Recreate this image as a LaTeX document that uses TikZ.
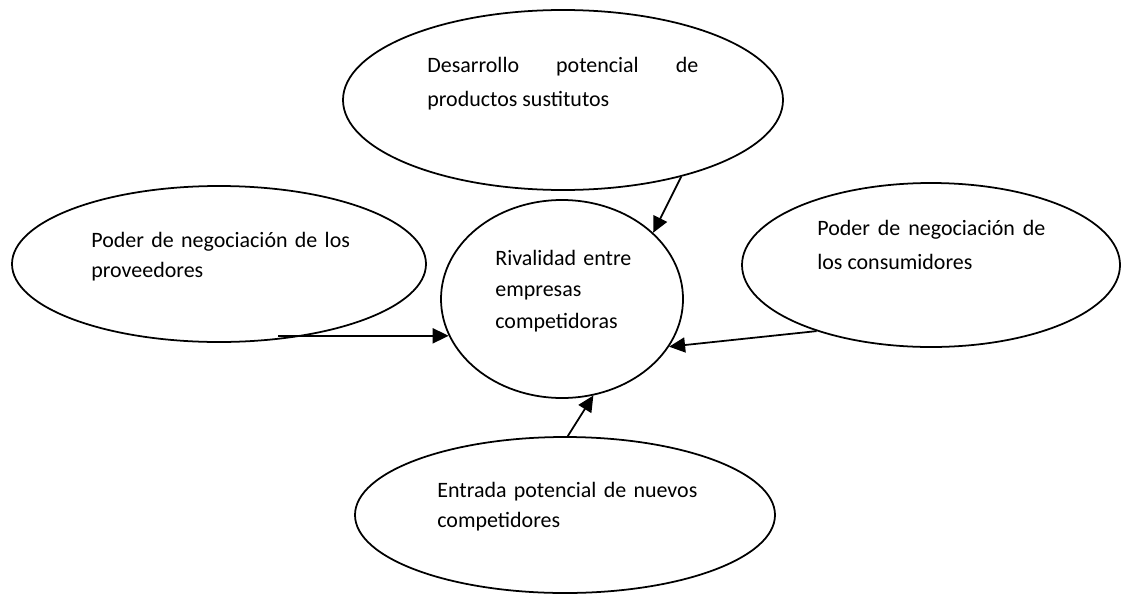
\documentclass[tikz,border=0pt]{standalone}
\usepackage{fontspec}
\setmainfont{Carlito}
\usepackage{tikz}
\usetikzlibrary{shapes.geometric, arrows.meta, positioning}
\hyphenpenalty=10000
\tikzset{
    fuerza/.style={ellipse, draw=black, line width=1pt, inner sep=0pt},
    texto/.style={anchor=base west, inner sep=0pt, text width=6cm, align=left,
        font=\fontsize{12.5}{17.5}\selectfont},
    arrow/.style={line width=1pt, -{Triangle[length=3.2mm, width=3mm]}},
}

\begin{document}
\begin{tikzpicture}
    \useasboundingbox (0,0) rectangle (22.44,11.88);

    \node [fuerza, minimum width=8.8cm, minimum height=3.6cm] (sust) at (11.26,9.88) {};
    \node [fuerza, minimum width=8.28cm, minimum height=3.12cm] (prov) at (4.38,6.60) {};
    \node [fuerza, minimum width=7.56cm, minimum height=3.28cm] (cons) at (18.62,6.58) {};
    \node [fuerza, minimum width=4.84cm, minimum height=3.96cm] (riv) at (11.24,5.90) {};
    \node [fuerza, minimum width=8.4cm, minimum height=3.12cm] (nuev) at (11.30,1.58) {};

    \node [texto, text width=5.42cm, align=justify, font=\fontsize{12.5}{19.5}\selectfont] (sust-txt) at (8.54,10.44) {Desarrollo potencial de productos sustitutos};
    \node [texto] (prov-txt) at (1.82,6.94) {Poder de negociación de los\\proveedores};
    \node [texto, text width=4.56cm, align=justify, font=\fontsize{12.5}{19.5}\selectfont] (cons-txt) at (16.34,7.18) {Poder de negociación de los consumidores};
    \node [texto, text width=3.5cm, font=\fontsize{12.5}{18.2}\selectfont] (riv-txt) at (9.90,6.58) {Rivalidad entre\\empresas\\competidoras};
    \node [texto] (nuev-txt) at (8.74,1.94) {Entrada potencial de nuevos\\competidores};

    \draw [arrow] (sust.-33) -- (riv.36);
    \draw [arrow] (riv.-162 -| prov.-52) -- (riv.-162);
    \draw [arrow] (cons.-150) -- (riv.-24);
    \draw [arrow] (nuev.88) -- (riv.-72);
\end{tikzpicture}
\end{document}
